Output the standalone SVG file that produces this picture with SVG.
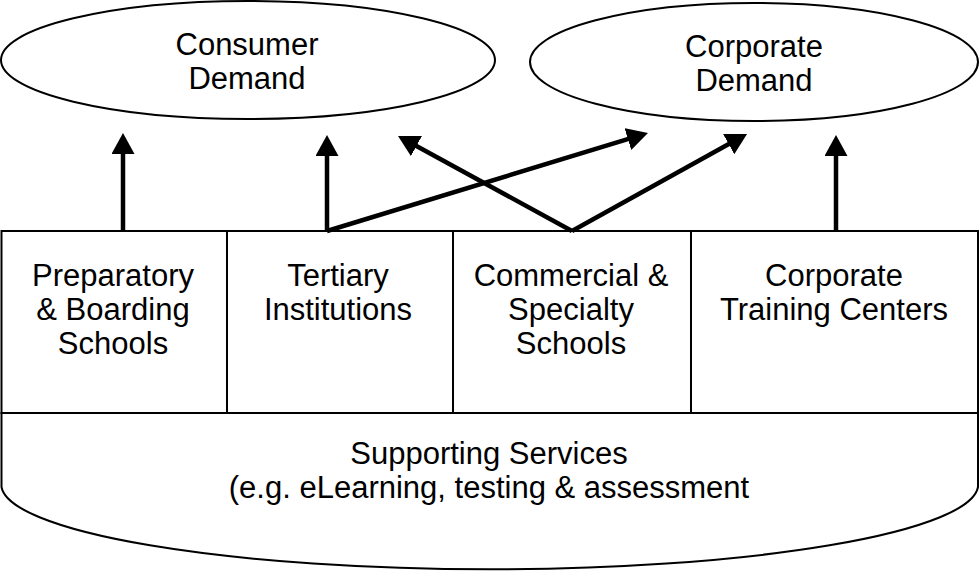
<svg xmlns="http://www.w3.org/2000/svg" width="980" height="575" viewBox="0 0 980 575">
<style>
  .shape { fill: #ffffff; stroke: #000000; stroke-width: 2; }
  .lbl { font-family: "Liberation Sans", Arial, sans-serif; font-size: 31px; fill: #000000; text-anchor: middle; }
  .conn { stroke: #000000; stroke-width: 4.5; fill: none; marker-end: url(#arrow); }
</style>
<defs>
  <marker id="arrow" markerUnits="userSpaceOnUse" markerWidth="22" markerHeight="24" refX="11" refY="11.5" orient="auto">
    <path d="M0,0 L21,11.5 L0,23 z" fill="#000000"/>
  </marker>
</defs>
<rect width="980" height="575" fill="#ffffff"/>

<g id="consumer-demand">
  <ellipse class="shape" cx="248" cy="60" rx="247" ry="59"/>
  <text class="lbl" x="247" y="55">Consumer</text>
  <text class="lbl" x="247" y="89">Demand</text>
</g>

<g id="corporate-demand">
  <ellipse class="shape" cx="754" cy="62" rx="224" ry="59"/>
  <text class="lbl" x="754" y="57">Corporate</text>
  <text class="lbl" x="754" y="91">Demand</text>
</g>

<g id="supporting-services">
  <path class="shape" d="M1.5,413 L1.5,487 A488.5,85 0 0 0 978,487 L978,413 Z"/>
  <text class="lbl" x="489" y="464">Supporting Services</text>
  <text class="lbl" x="489" y="498">(e.g. eLearning, testing &amp; assessment</text>
</g>

<g id="preparatory">
  <rect class="shape" x="1.5" y="231" width="225.5" height="182"/>
  <text class="lbl" x="113" y="286">Preparatory</text>
  <text class="lbl" x="113" y="320">&amp; Boarding</text>
  <text class="lbl" x="113" y="354">Schools</text>
</g>

<g id="tertiary">
  <rect class="shape" x="227" y="231" width="226" height="182"/>
  <text class="lbl" x="338" y="286">Tertiary</text>
  <text class="lbl" x="338" y="320">Institutions</text>
</g>

<g id="commercial">
  <rect class="shape" x="453" y="231" width="238" height="182"/>
  <text class="lbl" x="571" y="286">Commercial &amp;</text>
  <text class="lbl" x="571" y="320">Specialty</text>
  <text class="lbl" x="571" y="354">Schools</text>
</g>

<g id="corporate-training">
  <rect class="shape" x="691" y="231" width="287" height="182"/>
  <text class="lbl" x="834" y="286">Corporate</text>
  <text class="lbl" x="834" y="320">Training Centers</text>
</g>

<g id="connectors">
  <line class="conn" x1="123" y1="231" x2="123" y2="143"/>
  <line class="conn" x1="327" y1="231" x2="327" y2="145"/>
  <line class="conn" x1="327" y1="231" x2="638.4" y2="135.9"/>
  <line class="conn" x1="572" y1="231" x2="406.8" y2="140.8"/>
  <line class="conn" x1="572" y1="231" x2="738.3" y2="138.8"/>
  <line class="conn" x1="836" y1="231" x2="836" y2="145"/>
</g>
</svg>
